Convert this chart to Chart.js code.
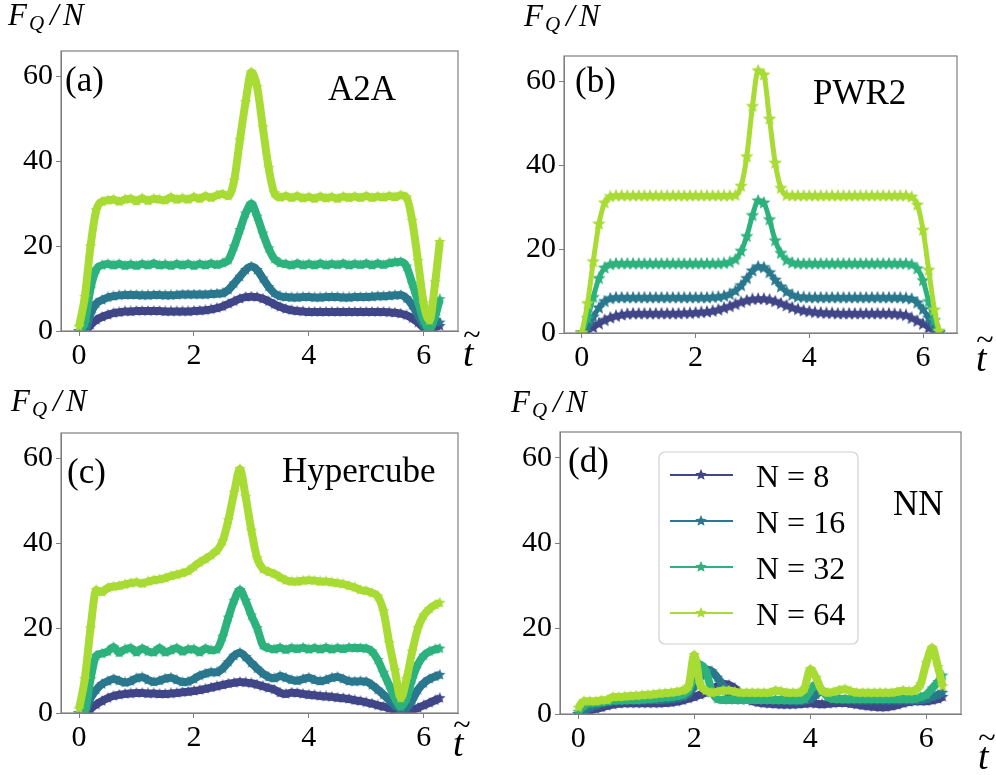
<!DOCTYPE html>
<html>
<head>
<meta charset="utf-8">
<script src="https://cdn.jsdelivr.net/npm/chart.js@4.4.0/dist/chart.umd.min.js"></script>
<style>
body { margin: 0; background: #fff; }
#wrap { position: relative; width: 996px; height: 775px; }
canvas { position: absolute; }
</style>
</head>
<body>
<div id="wrap">
  <canvas id="chartA" width="498" height="388" style="left:0;top:0"></canvas>
  <canvas id="chartB" width="498" height="388" style="left:498px;top:0"></canvas>
  <canvas id="chartC" width="498" height="387" style="left:0;top:388px"></canvas>
  <canvas id="chartD" width="498" height="387" style="left:498px;top:388px"></canvas>
</div>
<script>
// time axis (t tilde), same for every panel
var tVals = [0, 0.1, 0.2, 0.3, 0.4, 0.5, 0.6, 0.7, 0.8, 0.9,
  1, 1.1, 1.2, 1.3, 1.4, 1.5, 1.6, 1.7, 1.8, 1.9,
  2, 2.1, 2.2, 2.3, 2.4, 2.5, 2.6, 2.7, 2.8, 2.9,
  3, 3.1, 3.2, 3.3, 3.4, 3.5, 3.6, 3.7, 3.8, 3.9,
  4, 4.1, 4.2, 4.3, 4.4, 4.5, 4.6, 4.7, 4.8, 4.9,
  5, 5.1, 5.2, 5.3, 5.4, 5.5, 5.6, 5.7, 5.8, 5.9,
  6, 6.1, 6.2, 6.28]

var seriesLabels = ['N = 8', 'N = 16', 'N = 32', 'N = 64']
var seriesColors = ['#404688', '#2a788e', '#2db27d', '#a8db34']
var xTicks = [0, 2, 4, 6]
var yTicks = [0, 20, 40, 60]

// (a) A2A
var a8 = [0, 0, 1.4, 2.6, 3.3, 3.8, 4.2, 4.4, 4.6, 4.6,
  4.7, 4.7, 4.7, 4.7, 4.7, 4.6, 4.6, 4.6, 4.6, 4.6,
  4.7, 4.8, 4.9, 5.1, 5.4, 5.8, 6.4, 7, 7.6, 8,
  8.1, 8, 7.6, 7, 6.3, 5.7, 5.2, 4.9, 4.7, 4.6,
  4.5, 4.5, 4.5, 4.5, 4.5, 4.5, 4.5, 4.5, 4.5, 4.5,
  4.5, 4.5, 4.5, 4.5, 4.4, 4.3, 4.1, 3.7, 3, 2,
  0.8, 0.1, 1, 1.2]
var a16 = [0, 0, 4, 6.5, 7.3, 7.9, 8.2, 8.4, 8.5, 8.5,
  8.5, 8.4, 8.4, 8.5, 8.5, 8.4, 8.4, 8.5, 8.6, 8.6,
  8.6, 8.6, 8.6, 8.7, 8.8, 8.9, 9.7, 11.2, 12.8, 14.4,
  15.2, 14.4, 12.4, 10.4, 8.9, 8.2, 8, 7.9, 7.9, 8,
  8, 7.9, 7.9, 8, 8, 8, 7.9, 7.9, 8, 8,
  8, 8.1, 8.2, 8.2, 8.3, 8.4, 8.5, 7.7, 6.1, 3.8,
  1.4, 0.3, 2.5, 2]
var a32 = [0, 2, 10, 14.5, 15.5, 15.8, 15.5, 15.8, 15.4, 15.7,
  15.4, 15.8, 15.5, 15.9, 15.5, 15.7, 15.4, 15.8, 15.5, 15.8,
  15.4, 15.8, 15.5, 15.9, 15.6, 16, 16.7, 19.9, 23.8, 27.7,
  30, 27, 23, 19.5, 17, 16, 15.8, 15.5, 15.9, 15.5,
  15.8, 15.5, 15.9, 15.5, 15.8, 15.6, 15.9, 15.5, 15.8, 15.6,
  15.9, 15.5, 15.9, 15.6, 16, 16.2, 16.3, 15.2, 11.2, 7,
  2.6, 0.5, 3.5, 7.5]
var a64 = [1, 8, 20, 28.5, 30.5, 30.8, 31, 30.5, 31, 31.2,
  30.6, 31.3, 30.7, 31.2, 31, 30.8, 31.5, 31, 31.3, 31,
  31.6, 31.2, 31.8, 31.4, 32, 32.3, 31.8, 35.5, 45, 54,
  61, 57.5, 48, 38.5, 32.5, 31.5, 31.8, 31.4, 31.8, 31.3,
  31.6, 31.2, 31.7, 31.3, 31.6, 31.2, 31.7, 31.4, 31.7, 31.4,
  31.8, 31.4, 31.7, 31.5, 31.8, 31.6, 32, 31.5, 26, 16.5,
  6.5, 2.5, 11.5, 21]

// (b) PWR2
var b8 = [0, 0.5, 1.3, 2.2, 3, 3.6, 4, 4.3, 4.5, 4.6,
  4.6, 4.6, 4.6, 4.6, 4.6, 4.6, 4.6, 4.6, 4.7, 4.7,
  4.8, 4.9, 5, 5.2, 5.5, 5.9, 6.3, 6.8, 7.3, 7.7,
  8, 8.1, 8.1, 7.9, 7.5, 7, 6.5, 6, 5.6, 5.3,
  5.1, 4.9, 4.8, 4.7, 4.7, 4.6, 4.6, 4.6, 4.6, 4.6,
  4.6, 4.6, 4.6, 4.6, 4.6, 4.5, 4.4, 4.2, 3.5, 2.8,
  2.1, 1.2, 0.4, 0]
var b16 = [0, 1.5, 3.8, 6, 7.5, 8.2, 8.4, 8.4, 8.4, 8.4,
  8.4, 8.4, 8.4, 8.4, 8.4, 8.4, 8.4, 8.4, 8.4, 8.4,
  8.4, 8.4, 8.4, 8.5, 8.6, 8.8, 9.2, 10, 11.3, 13,
  14.8, 15.8, 15.6, 14.4, 12.6, 11, 9.8, 9, 8.6, 8.5,
  8.4, 8.4, 8.4, 8.4, 8.4, 8.4, 8.4, 8.4, 8.4, 8.4,
  8.4, 8.4, 8.4, 8.4, 8.4, 8.4, 8.4, 8.3, 8.1, 7.2,
  5.6, 3.6, 1.3, 0]
var b32 = [0, 3.5, 8.5, 13, 15.5, 16.3, 16.5, 16.5, 16.5, 16.5,
  16.5, 16.5, 16.5, 16.5, 16.5, 16.5, 16.5, 16.5, 16.5, 16.5,
  16.5, 16.5, 16.5, 16.5, 16.5, 16.6, 16.8, 17.5, 19.5, 23,
  28, 31.5, 31, 27, 22, 19, 17.3, 16.7, 16.5, 16.5,
  16.5, 16.5, 16.5, 16.5, 16.5, 16.5, 16.5, 16.5, 16.5, 16.5,
  16.5, 16.5, 16.5, 16.5, 16.5, 16.5, 16.5, 16.5, 16.3, 15.3,
  12.5, 7.5, 3, 0.2]
var b64 = [0, 7, 17, 26, 31, 32.5, 32.7, 32.7, 32.7, 32.7,
  32.7, 32.7, 32.7, 32.7, 32.7, 32.7, 32.7, 32.7, 32.7, 32.7,
  32.7, 32.7, 32.7, 32.7, 32.7, 32.7, 32.7, 32.8, 35, 42,
  54, 62.5, 61.5, 51, 40.5, 34.5, 32.8, 32.7, 32.7, 32.7,
  32.7, 32.7, 32.7, 32.7, 32.7, 32.7, 32.7, 32.7, 32.7, 32.7,
  32.7, 32.7, 32.7, 32.7, 32.7, 32.7, 32.7, 32.7, 32.4, 30.5,
  24.5, 15, 5.5, 0.5]

// (c) Hypercube
var c8 = [0, 0, 1, 2, 2.8, 3.5, 4, 4.3, 4.5, 4.6,
  4.7, 4.7, 4.6, 4.6, 4.5, 4.5, 4.6, 4.7, 4.9, 5,
  5.2, 5.4, 5.7, 6, 6.3, 6.6, 6.9, 7.1, 7.3, 7.2,
  7, 6.7, 6.3, 5.9, 5.5, 4.8, 4.5, 4.8, 4.7, 4.5,
  4.3, 4.2, 4, 3.9, 3.8, 3.6, 3.5, 3.3, 3, 2.8,
  2.5, 2.2, 1.8, 1.5, 1.1, 0.8, 0.6, 0.6, 0.8, 1.2,
  1.8, 2.4, 3, 3.5]
var c16 = [0, 0.2, 3.5, 5.5, 6.8, 7.5, 8, 7.6, 7.2, 7.5,
  8.2, 8.4, 7.8, 7.3, 7.6, 8.1, 8.3, 7.8, 7.3, 7.4,
  8, 8.8, 9.3, 9.6, 9.6, 10.5, 12, 13.5, 14.2, 13.2,
  11.8, 10.5, 9.3, 8.5, 8.2, 8.7, 8.3, 7.8, 7.6, 8,
  8.3, 7.8, 7.5, 7.8, 8.3, 8.5, 8, 7.5, 7.4, 7.5,
  7.4, 6.6, 5.5, 4.3, 3, 1.8, 1, 1.2, 3, 5.5,
  7, 8, 8.6, 9]
var c32 = [0, 0.5, 8, 13.5, 14, 14.5, 15.5, 14.2, 15, 15.3,
  14.3, 15.2, 14.5, 14.3, 15.3, 14.3, 14.8, 15.3, 14.5, 15,
  15, 14.3, 15.2, 14.8, 15, 18, 22.5, 26.5, 29, 26.5,
  23, 20, 16, 15.3, 15, 15.4, 14.9, 15.3, 15.1, 15.4,
  15, 15.3, 15, 15.4, 15, 15.3, 15.1, 15.4, 15.3, 15.3,
  15.2, 14.5, 12.5, 9.5, 6.5, 3.5, 1.5, 3.5, 8, 11.5,
  13.5, 14.5, 15, 15.2]
var c64 = [1, 8, 20, 29, 28.5, 29.5, 29.8, 30, 30.3, 30.6,
  30.8, 30.5, 31, 31.3, 31.5, 31.8, 32.3, 32.6, 33, 33.5,
  34.5, 35.5, 36.3, 37.2, 38.3, 40.5, 45.5, 52, 57.5, 51,
  43, 36.5, 34, 33.3, 32.8, 32, 31.3, 31, 31, 31.2,
  31.3, 31.2, 31, 31, 30.8, 30.6, 30.4, 30, 29.6, 29,
  28.8, 28.3, 27.5, 24, 16.5, 10, 3.5, 8, 14.5, 20,
  23, 24.5, 25.5, 26]

// (d) NN
var d8 = [0, 0.2, 0.8, 1.2, 1.5, 1.9, 2.2, 2.4, 2.5, 2.5,
  2.5, 2.5, 2.5, 2.5, 2.5, 2.6, 2.7, 2.9, 3.2, 3.6,
  4, 4.5, 5, 5.7, 6.5, 7, 6.8, 6, 4.5, 3.5,
  3, 2.7, 2.5, 2.4, 2.3, 2.2, 2.2, 2.2, 2.3, 2.4,
  2.5, 2.4, 2.3, 2.4, 2.5, 2.6, 2.6, 2.4, 2.2, 2,
  1.8, 1.7, 1.6, 1.6, 1.8, 2.1, 2.5, 2.8, 3, 3,
  3, 3.2, 3.5, 4]
var d16 = [0, 0.5, 1.5, 2, 2.5, 2.8, 3, 3.1, 3.2, 3.2,
  3.2, 3.2, 3.3, 3.3, 3.3, 3.4, 3.5, 3.7, 4, 4.8,
  6.5, 8.5, 10.5, 10, 8.5, 6.5, 4.5, 3.5, 3.3, 3.3,
  3.3, 3.3, 3.3, 3.3, 3.2, 3.2, 3.1, 3, 3, 3.2,
  3.5, 4.5, 5.5, 4.5, 3.5, 3.4, 3.3, 3.3, 3.2, 3.2,
  3.2, 3.2, 3.2, 3.2, 3.2, 3.2, 3.2, 3.2, 3.2, 3.3,
  3.5, 4, 4.5, 5]
var d32 = [0.5, 2, 2.5, 2.6, 2.8, 3, 3.2, 3.2, 3.2, 3.3,
  3.3, 3.4, 3.5, 3.6, 3.8, 3.9, 4, 4.2, 4.5, 5.5,
  9, 11.5, 10, 5.5, 3.5, 3.3, 3.3, 3.3, 3.3, 3.3,
  3.3, 3.3, 3.3, 3.3, 3.3, 3.3, 3.3, 3.3, 3.3, 3.5,
  5.5, 7, 5.5, 4, 3.5, 3.5, 3.5, 3.5, 3.5, 3.5,
  3.5, 3.5, 3.5, 3.5, 3.5, 3.5, 3.5, 3.5, 3.5, 4,
  4.5, 6, 7.5, 9]
var d64 = [1.5, 3, 3, 3, 3.2, 3.3, 4, 4, 4.1, 4.2,
  4.3, 4.4, 4.5, 4.6, 4.8, 4.9, 5, 5.2, 5.5, 6.5,
  13.8, 7, 5.5, 5, 5.2, 5.5, 5.5, 5.2, 5, 5,
  5, 5, 5, 5, 5.5, 5.3, 5, 5, 5, 6,
  10.5, 8.5, 5.5, 5, 5.2, 5.6, 5.8, 5.3, 5, 5,
  5, 5, 5, 5, 5, 5.2, 5.5, 5.3, 5.5, 7,
  12, 15.5, 11, 6.5]

var serif = "'Liberation Serif', 'Times New Roman', serif"

// filled five point star, like the matplotlib '*' marker
function starImage(color, size) {
    var c = document.createElement('canvas')
    c.width = size
    c.height = size
    var g = c.getContext('2d')
    var r = size / 2
    g.beginPath()
    for (var k = 0; k < 10; k++) {
        var ang = -Math.PI / 2 + k * Math.PI / 5
        var rr = k % 2 == 0 ? r : r * 0.45
        g.lineTo(r + rr * Math.cos(ang), r + rr * Math.sin(ang))
    }
    g.closePath()
    g.fillStyle = color
    g.fill()
    return c
}

// frame, labels and legend drawn on top of each panel
var annotPlugin = {
    id: 'annot',
    afterDraw: function(chart, args, o) {
        var ctx = chart.ctx
        var a = chart.chartArea
        ctx.save()
        ctx.strokeStyle = '#7f7f7f'
        ctx.lineWidth = 1.2
        ctx.strokeRect(a.left, a.top, a.right - a.left, a.bottom - a.top)

        ctx.fillStyle = '#000'
        ctx.textBaseline = 'alphabetic'
        ctx.textAlign = 'left'
        ctx.font = '35px ' + serif
        ctx.fillText(o.letter, o.letterX, o.letterY)
        ctx.fillText(o.name, o.nameX, o.nameY)

        // F_Q / N
        ctx.font = 'italic 31px ' + serif
        ctx.fillText('F', o.yLabX, o.yLabY)
        ctx.font = 'italic 21px ' + serif
        ctx.fillText('Q', o.yLabX + 21, o.yLabY + 5)
        ctx.font = 'italic 31px ' + serif
        ctx.fillText('/', o.yLabX + 42, o.yLabY)
        ctx.fillText('N', o.yLabX + 55, o.yLabY)

        // t tilde
        ctx.font = 'italic 38px ' + serif
        ctx.fillText('t', o.xLabX, o.xLabY)
        ctx.font = '32px ' + serif
        ctx.textAlign = 'center'
        ctx.textBaseline = 'middle'
        ctx.fillText('~', o.xLabX + 9, o.xLabY - 29)

        if (o.legend) {
            var L = o.legend
            ctx.fillStyle = 'rgba(255,255,255,0.8)'
            ctx.strokeStyle = '#d0d0d0'
            ctx.lineWidth = 1.2
            ctx.beginPath()
            ctx.roundRect(L.x, L.y, L.w, L.h, 6)
            ctx.fill()
            ctx.stroke()
            var ds = chart.data.datasets
            for (var i = 0; i < ds.length; i++) {
                var yy = L.y + L.first + i * L.step
                ctx.strokeStyle = ds[i].borderColor
                ctx.lineWidth = 2
                ctx.beginPath()
                ctx.moveTo(L.x + 11, yy)
                ctx.lineTo(L.x + 74, yy)
                ctx.stroke()
                var st = starImage(ds[i].borderColor, 12)
                ctx.drawImage(st, L.x + 42 - 6, yy - 6)
                ctx.fillStyle = '#000'
                ctx.font = '32px ' + serif
                ctx.textAlign = 'left'
                ctx.textBaseline = 'alphabetic'
                ctx.fillText(ds[i].label, L.x + 97, yy + 12)
            }
        }
        ctx.restore()
    }
}

function makePanel(id, series, box, annot, thick) {
    var canvas = document.getElementById(id)
    var W = canvas.width
    var H = canvas.height
    var datasets = []
    for (var i = 0; i < series.length; i++) {
        datasets.push({
            label: seriesLabels[i],
            data: tVals.map(function(t, k) { return { x: t, y: series[i][k] } }),
            borderColor: seriesColors[i],
            backgroundColor: seriesColors[i],
            borderWidth: thick ? 8 : 5,
            pointStyle: starImage(seriesColors[i], thick ? 12 : 14),
            pointRadius: 6,
            cubicInterpolationMode: 'monotone',
            order: series.length - 1 - i
        })
    }
    return new Chart(canvas, {
        type: 'line',
        data: { datasets: datasets },
        options: {
            responsive: false,
            animation: false,
            layout: { padding: { left: 0, top: box.top, right: W - box.right, bottom: 0 } },
            scales: {
                x: {
                    type: 'linear',
                    min: -0.314,
                    max: 6.597,
                    afterBuildTicks: function(s) { s.ticks = xTicks.map(function(v) { return { value: v } }) },
                    afterFit: function(s) { s.height = H - box.bottom },
                    grid: { display: true, drawOnChartArea: false, drawTicks: true, tickLength: 5, color: '#7f7f7f' },
                    border: { display: true, color: '#7f7f7f' },
                    ticks: { color: '#000', padding: 2, maxRotation: 0, font: { family: serif, size: 30 } }
                },
                y: {
                    min: 0,
                    max: 66,
                    afterBuildTicks: function(s) { s.ticks = yTicks.map(function(v) { return { value: v } }) },
                    afterFit: function(s) { s.width = box.left },
                    grid: { display: true, drawOnChartArea: false, drawTicks: true, tickLength: 5, color: '#7f7f7f' },
                    border: { display: true, color: '#7f7f7f' },
                    ticks: { color: '#000', padding: 3, font: { family: serif, size: 30 } }
                }
            },
            plugins: {
                legend: { display: false },
                tooltip: { enabled: false },
                annot: annot
            }
        },
        plugins: [annotPlugin]
    })
}

// A2A
makePanel('chartA', [a8, a16, a32, a64], { left: 61, right: 458, top: 51, bottom: 331 }, {
    letter: '(a)', letterX: 65, letterY: 91, name: 'A2A', nameX: 328, nameY: 100,
    yLabX: 8, yLabY: 25, xLabX: 463, xLabY: 366
}, true)

// PWR2
makePanel('chartB', [b8, b16, b32, b64], { left: 66, right: 459, top: 56, bottom: 333 }, {
    letter: '(b)', letterX: 77, letterY: 92, name: 'PWR2', nameX: 315, nameY: 104,
    yLabX: 26, yLabY: 26, xLabX: 478, xLabY: 371
}, false)

// Hypercube
makePanel('chartC', [c8, c16, c32, c64], { left: 61, right: 458, top: 45, bottom: 325 }, {
    letter: '(c)', letterX: 67, letterY: 95, name: 'Hypercube', nameX: 282, nameY: 94,
    yLabX: 11, yLabY: 23, xLabX: 453, xLabY: 368
}, true)

// NN
makePanel('chartD', [d8, d16, d32, d64], { left: 62, right: 463, top: 44, bottom: 326 }, {
    letter: '(d)', letterX: 70, letterY: 84, name: 'NN', nameX: 395, nameY: 127,
    yLabX: 13, yLabY: 24, xLabX: 480, xLabY: 381,
    legend: { x: 161, y: 64, w: 199, h: 192, first: 23, step: 46 }
}, true)
</script>
</body>
</html>
